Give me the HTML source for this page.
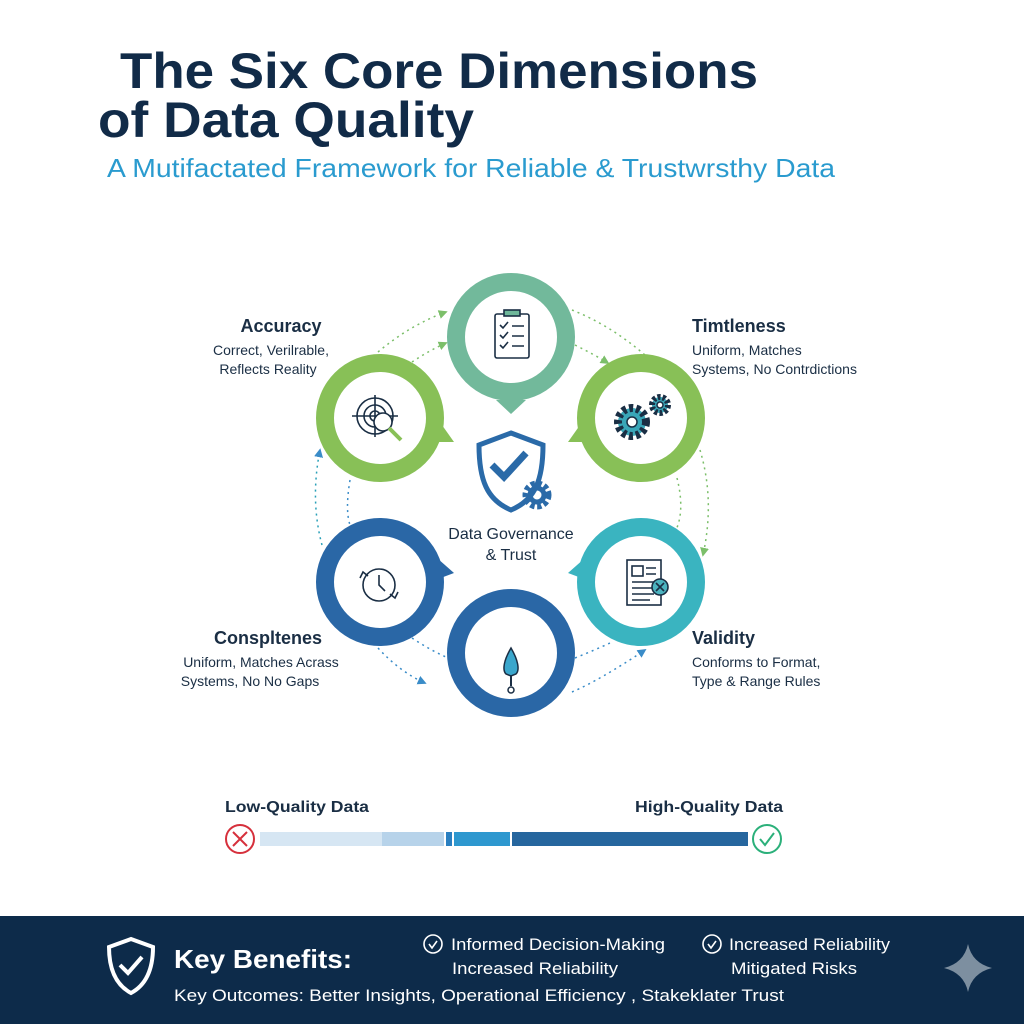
<!DOCTYPE html>
<html><head><meta charset="utf-8"><style>
html,body{margin:0;padding:0;background:#fff}
svg{display:block}
text{font-family:"Liberation Sans",sans-serif}
</style></head><body>
<svg width="1024" height="1024" viewBox="0 0 1024 1024" xmlns="http://www.w3.org/2000/svg">
<defs>
<marker id="ag" viewBox="0 0 10 10" refX="8" refY="5" markerWidth="6" markerHeight="6" orient="auto"><path d="M0,0 L10,5 L0,10 z" fill="#7cbf6a"/></marker>
<marker id="ab" viewBox="0 0 10 10" refX="8" refY="5" markerWidth="6" markerHeight="6" orient="auto"><path d="M0,0 L10,5 L0,10 z" fill="#3a8cc8"/></marker>
</defs>
<rect width="1024" height="1024" fill="#fff"/>
<text x="120" y="88" font-size="50" font-weight="bold" fill="#112b48" textLength="638" lengthAdjust="spacingAndGlyphs">The Six Core Dimensions</text>
<text x="98" y="137" font-size="50" font-weight="bold" fill="#112b48" textLength="376" lengthAdjust="spacingAndGlyphs">of Data Quality</text>
<text x="107" y="177" font-size="26" fill="#2a9bcf" textLength="728" lengthAdjust="spacingAndGlyphs">A Mutifactated Framework for Reliable &amp; Trustwrsthy Data</text>

<g fill="none" stroke-width="1.5" stroke-dasharray="2 4">
<path d="M378,352 Q410,325 446,312" stroke="#7cbf6a" marker-end="url(#ag)"/>
<path d="M412,362 Q430,350 446,343" stroke="#7cbf6a" marker-end="url(#ag)"/>
<path d="M572,310 Q610,325 645,355" stroke="#7cbf6a"/>
<path d="M575,345 Q595,355 608,363" stroke="#7cbf6a" marker-end="url(#ag)"/>
<path d="M700,450 Q715,500 703,555" stroke="#7cbf6a" marker-end="url(#ag)"/>
<path d="M677,478 Q685,510 676,530" stroke="#7cbf6a"/>
<path d="M322,545 Q310,500 320,450" stroke="#2aa0b8" marker-end="url(#ab)"/>
<path d="M350,480 Q345,510 350,525" stroke="#3a8cc8"/>
<path d="M378,648 Q400,672 425,683" stroke="#3a8cc8" marker-end="url(#ab)"/>
<path d="M412,638 Q430,650 448,658" stroke="#3a8cc8"/>
<path d="M572,692 Q600,680 645,650" stroke="#3a8cc8" marker-end="url(#ab)"/>
<path d="M575,658 Q595,650 610,643" stroke="#3a8cc8"/>
</g>

<g stroke-width="18" fill="#fff">
<path d="M496,400 L511,414 L526,400 Z" fill="#72b99b" stroke="none"/>
<circle cx="511" cy="337" r="55" stroke="#72b99b"/>
<path d="M437,418 L454,442 L430,442 Z" fill="#88c057" stroke="none"/>
<circle cx="380" cy="418" r="55" stroke="#88c057"/>
<path d="M585,418 L568,442 L592,442 Z" fill="#88c057" stroke="none"/>
<circle cx="641" cy="418" r="55" stroke="#88c057"/>
<path d="M437,558 L454,573 L430,582 Z" fill="#2a67a6" stroke="none"/>
<circle cx="380" cy="582" r="55" stroke="#2a67a6"/>
<path d="M585,558 L568,573 L592,582 Z" fill="#3ab4c0" stroke="none"/>
<circle cx="641" cy="582" r="55" stroke="#3ab4c0"/>
<path d="M496,610 L511,595 L526,610 Z" fill="#2a67a6" stroke="none"/>
<circle cx="511" cy="653" r="55" stroke="#2a67a6"/>
</g>

<g fill="none" stroke="#1a2e44" stroke-width="1.6">
<rect x="495" y="314" width="34" height="44" rx="2"/>
<rect x="504" y="310" width="16" height="6" fill="#6fb89a" stroke="#1a2e44"/>
<path d="M500,325 l3,3 5,-6 M512,326 h12 M500,335 l3,3 5,-6 M512,336 h12 M500,345 l3,3 5,-6 M512,346 h12"/>
<circle cx="375" cy="416" r="18"/><circle cx="375" cy="416" r="11"/><circle cx="375" cy="416" r="5"/>
<path d="M352,416 h46 M375,395 v42"/>
<circle cx="383" cy="422" r="9" fill="#fff"/>
<path d="M389,428 l12,12" stroke="#88c057" stroke-width="4"/>
<circle cx="379" cy="585" r="16"/>
<path d="M379,575 v10 l6,6"/>
<path d="M360,578 l3,-6 5,4 M398,592 l-3,6 -5,-4" />
</g>
<g fill="#3aa6b8" stroke="#1a2e44" stroke-width="1.5">
<circle cx="632" cy="422" r="14" stroke-dasharray="4 3" stroke-width="8" fill="#3aa6b8"/>
<circle cx="632" cy="422" r="5" fill="#fff"/>
<circle cx="660" cy="405" r="8" stroke-dasharray="3 2" stroke-width="6"/>
<circle cx="660" cy="405" r="3" fill="#fff"/>
</g>
<g fill="none" stroke="#1a2e44" stroke-width="1.6">
<rect x="627" y="560" width="34" height="45" fill="#fff"/>
<rect x="632" y="566" width="11" height="10"/>
<path d="M646,568 h10 M646,574 h10 M632,582 h22 M632,588 h22 M632,594 h22 M632,600 h18"/>
<circle cx="660" cy="587" r="8" fill="#4bb3bf"/>
<path d="M656,583 l8,8 M664,583 l-8,8"/>
</g>
<path d="M511,648 C504,660 502,670 506,674 L511,676 L516,674 C520,670 518,660 511,648 Z" fill="#3aa6cc" stroke="#1a2e44" stroke-width="1.5"/>
<path d="M511,676 v10" stroke="#1a2e44" stroke-width="2"/><circle cx="511" cy="690" r="3" fill="none" stroke="#1a2e44" stroke-width="1.5"/>

<path d="M511,433 L543,445 C543,480 535,500 511,510 C487,500 479,480 479,445 Z" fill="#fff" stroke="#2a6aa8" stroke-width="5"/>
<path d="M492,465 l12,12 22,-24" fill="none" stroke="#2a6aa8" stroke-width="7"/>
<circle cx="537" cy="495" r="11" fill="none" stroke="#2a6aa8" stroke-width="7" stroke-dasharray="4 2.5"/>
<circle cx="537" cy="495" r="7" fill="none" stroke="#2a6aa8" stroke-width="5"/>
<text x="511" y="539" font-size="16" fill="#1a2e44" text-anchor="middle">Data Governance</text>
<text x="511" y="560" font-size="16" fill="#1a2e44" text-anchor="middle">&amp; Trust</text>

<g fill="#1a2e44">
<text x="281" y="332" font-size="18" font-weight="bold" text-anchor="middle">Accuracy</text>
<text x="271" y="355" font-size="14" text-anchor="middle">Correct, Verilrable,</text>
<text x="268" y="374" font-size="14" text-anchor="middle">Reflects Reality</text>
<text x="692" y="332" font-size="18" font-weight="bold">Timtleness</text>
<text x="692" y="355" font-size="14">Uniform, Matches</text>
<text x="692" y="374" font-size="14">Systems, No Contrdictions</text>
<text x="268" y="644" font-size="18" font-weight="bold" text-anchor="middle">Conspltenes</text>
<text x="261" y="667" font-size="14" text-anchor="middle">Uniform, Matches Acrass</text>
<text x="250" y="686" font-size="14" text-anchor="middle">Systems, No No Gaps</text>
<text x="692" y="644" font-size="18" font-weight="bold">Validity</text>
<text x="692" y="667" font-size="14">Conforms to Format,</text>
<text x="692" y="686" font-size="14">Type &amp; Range Rules</text>
<text x="225" y="812" font-size="16" font-weight="bold" textLength="144" lengthAdjust="spacingAndGlyphs">Low-Quality Data</text>
<text x="635" y="812" font-size="16" font-weight="bold" textLength="148" lengthAdjust="spacingAndGlyphs">High-Quality Data</text>
</g>

<rect x="260" y="832" width="122" height="14" fill="#d6e6f3"/>
<rect x="382" y="832" width="62" height="14" fill="#b7d3ea"/>
<rect x="446" y="832" width="6" height="14" fill="#2a7fc0"/>
<rect x="454" y="832" width="56" height="14" fill="#2e98cf"/>
<rect x="512" y="832" width="236" height="14" fill="#26669e"/>
<circle cx="240" cy="839" r="14" fill="#fff" stroke="#d6303c" stroke-width="2"/>
<path d="M233,832 l14,14 M247,832 l-14,14" stroke="#d6303c" stroke-width="2"/>
<circle cx="767" cy="839" r="14" fill="#fff" stroke="#2bb07a" stroke-width="2"/>
<path d="M760,839 l5,6 9,-12" fill="none" stroke="#2bb07a" stroke-width="2"/>

<rect x="0" y="916" width="1024" height="108" fill="#0d2b4a"/>
<path d="M131,939 L153,947 C153,970 146,985 131,993 C116,985 109,970 109,947 Z" fill="none" stroke="#fff" stroke-width="4"/>
<path d="M120,965 l8,8 14,-16" fill="none" stroke="#fff" stroke-width="4"/>
<text x="174" y="968" font-size="26" font-weight="bold" fill="#fff" textLength="178" lengthAdjust="spacingAndGlyphs">Key Benefits:</text>
<g fill="#fff" font-size="17">
<circle cx="433" cy="944" r="9" fill="none" stroke="#fff" stroke-width="1.6"/>
<path d="M429,944 l3,4 5,-7" fill="none" stroke="#fff" stroke-width="1.6"/>
<text x="451" y="950" textLength="214" lengthAdjust="spacingAndGlyphs">Informed Decision-Making</text>
<text x="452" y="974" textLength="166" lengthAdjust="spacingAndGlyphs">Increased Reliability</text>
<circle cx="712" cy="944" r="9" fill="none" stroke="#fff" stroke-width="1.6"/>
<path d="M708,944 l3,4 5,-7" fill="none" stroke="#fff" stroke-width="1.6"/>
<text x="729" y="950" textLength="161" lengthAdjust="spacingAndGlyphs">Increased Reliability</text>
<text x="731" y="974" textLength="126" lengthAdjust="spacingAndGlyphs">Mitigated Risks</text>
<text x="174" y="1001" textLength="610" lengthAdjust="spacingAndGlyphs">Key Outcomes: Better Insights, Operational Efficiency , Stakeklater Trust</text>
</g>
<path d="M968,944 Q972,963 992,968 Q972,973 968,992 Q964,973 944,968 Q964,963 968,944 Z" fill="#7d8fa0"/>
</svg>
</body></html>
